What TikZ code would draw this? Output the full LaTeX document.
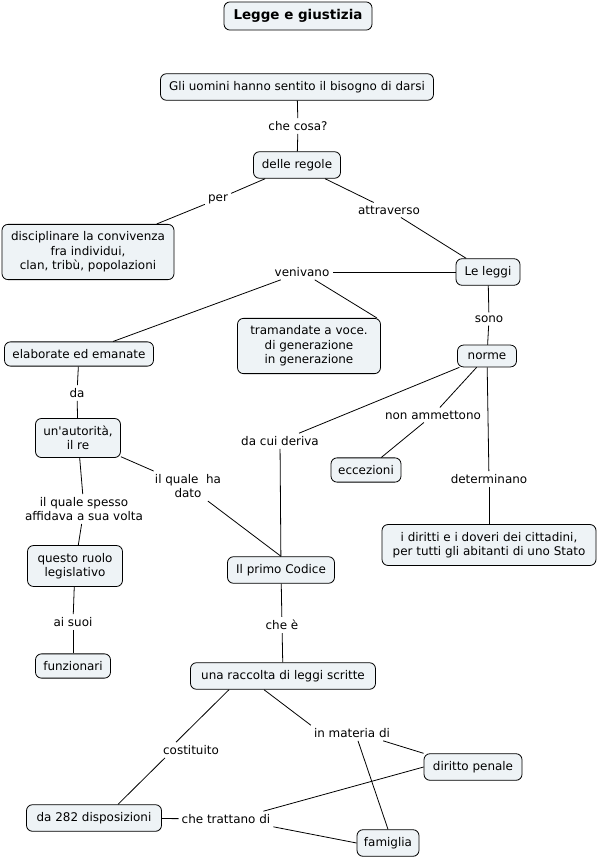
\documentclass[tikz,border=0pt]{standalone}
\usepackage{fontspec}
\setmainfont{DejaVu Sans}
\usetikzlibrary{positioning}
\definecolor{ink}{HTML}{000000}
\definecolor{cfill}{HTML}{EEF3F6}
\tikzset{
  every node/.style={text=ink, font=\fontsize{12}{14.4}\selectfont},
  % concept box; width is given per node
  cbox/.style={draw=ink, fill=cfill, rounded corners=6bp, line width=0.8bp, align=center,
               inner xsep=6bp, inner ysep=7.5bp},
  lbl/.style={align=center, inner sep=3bp},
  link/.style={draw=ink, line width=0.8bp},
}
\begin{document}
\begin{tikzpicture}[x=1bp,y=-1bp]
  \fill[white] (0,0) rectangle (599,860);
  \useasboundingbox (0,0) rectangle (599,860);

  \node[cbox, font=\bfseries\fontsize{13.5}{16}\selectfont, minimum width=148bp, minimum height=28bp] (title) at (298,16) {Legge e giustizia};
  \node[cbox, minimum width=273bp] (uomini) at (297,87) {Gli uomini hanno sentito il bisogno di darsi};
  \node[lbl] (checosa) at (298,126) {che cosa?};
  \node[cbox, minimum width=87bp] (regole) at (297,165) {delle regole};
  \node[lbl] (per) at (218,199) {per};
  \node[lbl] (attraverso) at (389,210) {attraverso};
  \node[cbox, minimum width=172bp] (disciplina) at (88,252) {disciplinare la convivenza\\fra individui,\\clan, tribù, popolazioni};
  \node[cbox, minimum width=64bp] (leggi) at (488,272) {Le leggi};
  \node[lbl] (venivano) at (302,272) {venivano};
  \node[cbox, minimum width=143bp] (tramandate) at (309,346) {tramandate a voce.\\di generazione\\in generazione};
  \node[lbl] (sono) at (489,319) {sono};
  \node[cbox, minimum width=59bp] (norme) at (487,356) {norme};
  \node[cbox, minimum width=149bp] (elaborate) at (79,354) {elaborate ed emanate};
  \node[lbl] (da) at (77,393) {da};
  \node[cbox, minimum width=85bp] (autorita) at (78,438) {un\textquotesingle autorità,\\il re};
  \node[lbl] (dacui) at (280,441) {da cui deriva};
  \node[lbl] (nonamm) at (433,415) {non ammettono};
  \node[cbox, minimum width=70bp] (eccezioni) at (366,470) {eccezioni};
  \node[lbl] (determinano) at (489,479) {determinano};
  \node[lbl] (qualeha) at (188,486) {il quale\ \ ha\\dato};
  \node[lbl] (qualespesso) at (84,509) {il quale spesso\\affidava a sua volta};
  \node[cbox, minimum width=214bp] (diritti) at (489,545) {i diritti e i doveri dei cittadini,\\per tutti gli abitanti di uno Stato};
  \node[cbox, minimum width=95bp] (ruolo) at (75,566) {questo ruolo\\legislativo};
  \node[cbox, minimum width=107bp] (codice) at (281,570) {Il primo Codice};
  \node[lbl] (aisuoi) at (73,622) {ai suoi};
  \node[lbl] (chee) at (282,625) {che è};
  \node[cbox, minimum width=75bp] (funzionari) at (73,666) {funzionari};
  \node[cbox, minimum width=185bp] (raccolta) at (283,676) {una raccolta di leggi scritte};
  \node[lbl] (costituito) at (191,750) {costituito};
  \node[lbl] (materia) at (352,733) {in materia di};
  \node[cbox, minimum width=98bp] (penale) at (473,767) {diritto penale};
  \node[cbox, minimum width=135bp] (disposizioni) at (94,818) {da 282 disposizioni};
  \node[lbl] (trattano) at (226,819) {che trattano di};
  \node[cbox, minimum width=62bp] (famiglia) at (388,843) {famiglia};

  % links
  \draw[link] (uomini) -- (checosa);
  \draw[link] (checosa) -- (regole);
  \draw[link] (regole) -- (per);
  \draw[link] (per) -- (disciplina);
  \draw[link] (regole) -- (attraverso);
  \draw[link] (attraverso) -- (leggi);
  \draw[link] (leggi) -- (venivano);
  \draw[link] (venivano) -- (elaborate);
  \draw[link] (venivano) -- ([xshift=-4bp]tramandate.north east);
  \draw[link] (leggi) -- (sono);
  \draw[link] (sono) -- (norme);
  \draw[link] (norme) -- (dacui);
  \draw[link] (dacui) -- (codice);
  \draw[link] (norme) -- (nonamm);
  \draw[link] (nonamm) -- (eccezioni);
  \draw[link] (norme) -- (determinano);
  \draw[link] (determinano) -- (diritti);
  \draw[link] (elaborate) -- (da);
  \draw[link] (da) -- (autorita);
  \draw[link] (autorita) -- (qualeha);
  \draw[link] (qualeha) -- (codice.north);
  \draw[link] (autorita) -- (qualespesso);
  \draw[link] (qualespesso) -- (ruolo);
  \draw[link] (ruolo) -- (aisuoi);
  \draw[link] (aisuoi) -- (funzionari);
  \draw[link] (codice) -- (chee);
  \draw[link] (chee) -- (raccolta);
  \draw[link] ([xshift=-54bp]raccolta.south) -- ([xshift=-15bp]costituito.north);
  \draw[link] ([xshift=-26bp]costituito.south) -- ([xshift=24bp]disposizioni.north);
  \draw[link] ([xshift=-19bp]raccolta.south) -- (materia.north west);
  \draw[link] ([xshift=-10bp]materia.south east) -- (penale.north west);
  \draw[link] ([xshift=6bp]materia.south) -- (famiglia.north);
  \draw[link] (disposizioni) -- (trattano);
  \draw[link] ([xshift=-10bp]trattano.north east) -- (penale.west);
  \draw[link] (trattano.south east) -- (famiglia.west);
\end{tikzpicture}
\end{document}
